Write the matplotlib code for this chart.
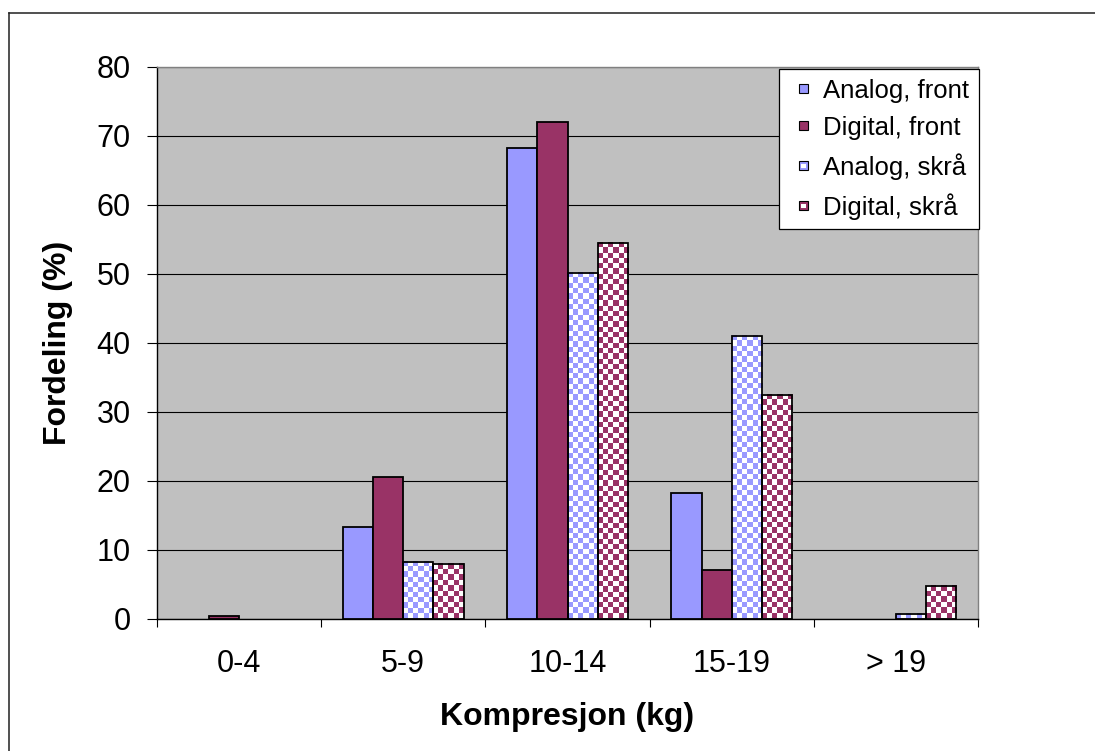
import numpy as np
import matplotlib
matplotlib.use("Agg")
import matplotlib.pyplot as plt
from matplotlib.patches import Rectangle, Patch
from matplotlib.lines import Line2D
from matplotlib.legend_handler import HandlerBase

# Data: share of measurements (%) per compression class
categories = ["0-4", "5-9", "10-14", "15-19", "> 19"]
series_names = ["Analog, front", "Digital, front", "Analog, skrå", "Digital, skrå"]
analog_front = [0.0, 13.3, 68.2, 18.2, 0.0]
digital_front = [0.4, 20.5, 72.0, 7.0, 0.0]
analog_skra = [0.0, 8.2, 50.1, 41.0, 0.7]
digital_skra = [0.0, 7.9, 54.5, 32.4, 4.7]
y_ticks = [0, 10, 20, 30, 40, 50, 60, 70, 80]

ANALOG = "#9999FF"
DIGITAL = "#993366"
PLOT_BG = "#C0C0C0"

plt.rcParams["font.family"] = ["Liberation Sans", "DejaVu Sans"]

W, H = 1095, 751
DPI = 100
fig = plt.figure(figsize=(W / DPI, H / DPI), dpi=DPI)
fig.patch.set_facecolor("white")

# plot area in pixel coordinates
left_px, right_px, top_px, bottom_px = 157, 978, 67, 618.5
ax = fig.add_axes([left_px / W, 1 - bottom_px / H,
                   (right_px - left_px) / W, (bottom_px - top_px) / H])
ax.set_facecolor(PLOT_BG)
ax.set_xlim(-0.5, len(categories) - 0.5)
ax.set_ylim(0, 80)

bar_w = 0.1836
offsets = np.array([-1.5, -0.5, 0.5, 1.5]) * bar_w
x = np.arange(len(categories))

edge_lw = 1.3


def solid_bars(xs, heights, color):
    """Plain filled bars; empty classes are left out."""
    xs = np.asarray(xs)
    heights = np.asarray(heights)
    keep = heights > 0
    ax.bar(xs[keep], heights[keep], bar_w, color=color, edgecolor="black",
           linewidth=edge_lw, zorder=3)


def checker_bars(xs, heights, color, cell_px=5.3):
    """Bars filled with a coloured/white checkerboard."""
    rgb = np.array(matplotlib.colors.to_rgb(color))
    white = np.ones(3)
    for xc, h in zip(xs, heights):
        if h <= 0:
            continue
        x0 = xc - bar_w / 2
        p0 = ax.transData.transform((x0, 0))
        p1 = ax.transData.transform((x0 + bar_w, h))
        w_px, h_px = abs(p1[0] - p0[0]), abs(p1[1] - p0[1])
        nx = max(1, int(round(w_px / cell_px)))
        ny = max(1, int(round(h_px / cell_px)))
        jj, ii = np.meshgrid(np.arange(nx), np.arange(ny))
        mask = ((ii + jj) % 2 == 0)[..., None]
        img = np.where(mask, rgb, white)
        ax.imshow(img, extent=(x0, x0 + bar_w, 0, h), origin="lower",
                  interpolation="nearest", aspect="auto", zorder=2.5)
        ax.add_patch(Rectangle((x0, 0), bar_w, h, facecolor="none",
                               edgecolor="black", linewidth=edge_lw, zorder=3))


solid_bars(x + offsets[0], analog_front, ANALOG)
solid_bars(x + offsets[1], digital_front, DIGITAL)
checker_bars(x + offsets[2], analog_skra, ANALOG)
checker_bars(x + offsets[3], digital_skra, DIGITAL)

ax.set_xlim(-0.5, len(categories) - 0.5)
ax.set_ylim(0, 80)

# grid and axes
ax.set_yticks(y_ticks)
ax.yaxis.grid(True, color="black", linewidth=0.8, zorder=1)
ax.set_axisbelow(True)
ax.tick_params(axis="y", direction="out", length=7, width=0.8, pad=12,
               labelsize=22, colors="black")

ax.set_xticks(np.arange(len(categories) + 1) - 0.5)
ax.set_xticklabels([])
ax.set_xticks(x, minor=True)
ax.set_xticklabels(categories, minor=True)
ax.tick_params(axis="x", which="major", direction="out", length=6, width=0.8)
ax.tick_params(axis="x", which="minor", length=0, pad=22, labelsize=22)

for side in ("left", "bottom"):
    ax.spines[side].set_color("black")
    ax.spines[side].set_linewidth(1.0)
for side in ("top", "right"):
    ax.spines[side].set_color("#808080")
    ax.spines[side].set_linewidth(1.0)

# axis titles
fig.text((left_px + right_px) / 2 / W, 1 - 717 / H, "Kompresjon (kg)",
         ha="center", va="center", fontsize=23, fontweight="bold")
fig.text(58 / W, 1 - (top_px + bottom_px) / 2 / H, "Fordeling (%)",
         ha="center", va="center", rotation=90, fontsize=23, fontweight="bold")


# legend with small square keys
class SquareKey(HandlerBase):
    def __init__(self, color, patterned):
        super().__init__()
        self.color = color
        self.patterned = patterned

    def create_artists(self, legend, orig_handle, xdescent, ydescent,
                       width, height, fontsize, trans):
        s = 6.5
        x0 = -xdescent + width - s - 4.7
        y0 = -ydescent + (height - s) / 2
        arts = [Rectangle((x0, y0), s, s, facecolor=self.color,
                          edgecolor="black", linewidth=0.8, transform=trans)]
        if self.patterned:
            arts.append(Rectangle((x0 + 1.6, y0 + 1.6), s - 3.2, s - 3.2,
                                  facecolor="white", edgecolor="none",
                                  transform=trans))
        return arts


colors = [ANALOG, DIGITAL, ANALOG, DIGITAL]
patterned = [False, False, True, True]
handles = [Patch(label=n) for n in series_names]
hmap = {h: SquareKey(c, p) for h, c, p in zip(handles, colors, patterned)}
leg = ax.legend(handles=handles, labels=series_names, handler_map=hmap,
                loc="upper right",
                bbox_to_anchor=((979 - left_px) / (right_px - left_px),
                                (bottom_px - 69) / (bottom_px - top_px)),
                borderaxespad=0, fontsize=18.5, frameon=True, fancybox=False,
                shadow=False, borderpad=0.37, labelspacing=0.52,
                handlelength=1.01, handletextpad=0.35)
leg.get_frame().set_edgecolor("black")
leg.get_frame().set_linewidth(0.9)
leg.get_frame().set_facecolor("white")
leg.get_frame().set_alpha(1)
leg.set_zorder(10)

# chart border
fig.add_artist(Line2D([9 / W, 9 / W], [1 - 13 / H, 0], transform=fig.transFigure,
                      color="#202020", linewidth=1.1))
fig.add_artist(Line2D([9 / W, 1], [1 - 13 / H, 1 - 13 / H], transform=fig.transFigure,
                      color="#202020", linewidth=1.1))

fig.savefig("out.png", dpi=DPI)
